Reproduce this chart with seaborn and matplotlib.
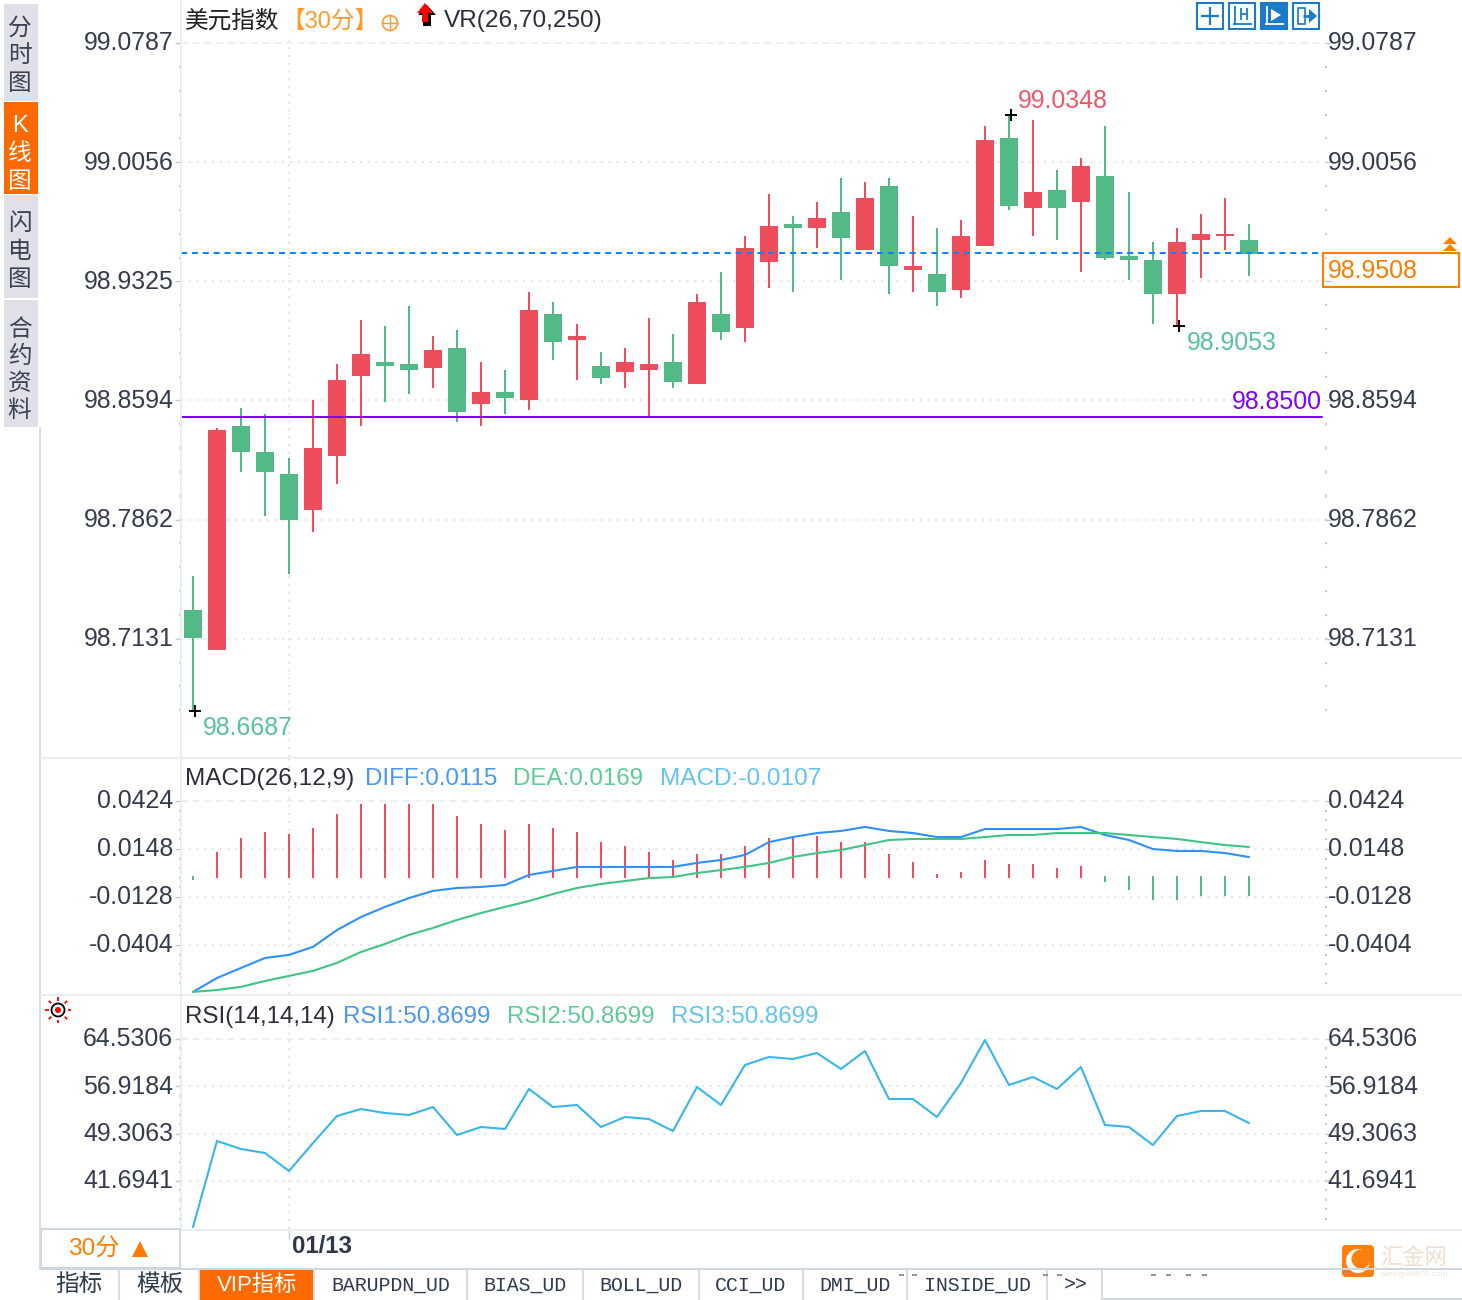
import numpy as np
import pandas as pd
import matplotlib
matplotlib.use('Agg')
import matplotlib.pyplot as plt
import seaborn as sns
from matplotlib.patches import Rectangle, Circle, Polygon, FancyBboxPatch
from matplotlib.transforms import ScaledTranslation

# candles, 30 min bars
opens = [98.7309, 98.7063, 98.8437, 98.8278, 98.8143, 98.7922, 98.8253, 98.8744, 98.8830, 98.8818, 98.8793,
         98.8916, 98.8572, 98.8646, 98.8597, 98.9125, 98.8965, 98.8806, 98.8769, 98.8781, 98.8830, 98.8695,
         98.9125, 98.9039, 98.9444, 98.9677, 98.9652, 98.9750, 98.9517, 98.9910, 98.9395, 98.9370, 98.9272,
         98.9542, 99.0204, 98.9775, 98.9885, 98.9812, 98.9971, 98.9480, 98.9456, 98.9247, 98.9579, 98.9603, 98.9579]
closes = [98.7137, 98.8413, 98.8278, 98.8155, 98.7861, 98.8303, 98.8720, 98.8879, 98.8806, 98.8781, 98.8904,
          98.8523, 98.8646, 98.8609, 98.9149, 98.8953, 98.8990, 98.8732, 98.8830, 98.8818, 98.8707, 98.9198,
          98.9014, 98.9530, 98.9664, 98.9652, 98.9714, 98.9591, 98.9836, 98.9419, 98.9419, 98.9260, 98.9603,
          99.0192, 98.9787, 98.9873, 98.9775, 99.0033, 98.9468, 98.9456, 98.9247, 98.9566, 98.9615, 98.9615, 98.9493]
highs = [98.7517, 98.8425, 98.8548, 98.8511, 98.8241, 98.8597, 98.8818, 98.9088, 98.9051, 98.9174, 98.8990,
         98.9026, 98.8830, 98.8781, 98.9260, 98.9198, 98.9063, 98.8891, 98.8916, 98.9100, 98.9002, 98.9247,
         98.9382, 98.9603, 98.9861, 98.9726, 98.9812, 98.9959, 98.9934, 98.9959, 98.9726, 98.9652, 98.9701,
         99.0278, 99.0352, 99.0315, 99.0008, 99.0082, 99.0278, 98.9873, 98.9566, 98.9652, 98.9738, 98.9836, 98.9677]
lows = [98.6683, 98.7063, 98.8155, 98.7885, 98.7530, 98.7787, 98.8082, 98.8437, 98.8585, 98.8634, 98.8671,
        98.8462, 98.8437, 98.8511, 98.8536, 98.8842, 98.8720, 98.8695, 98.8671, 98.8499, 98.8671, 98.8695,
        98.8965, 98.8953, 98.9284, 98.9260, 98.9530, 98.9333, 98.9517, 98.9247, 98.9260, 98.9174, 98.9223,
        98.9542, 98.9763, 98.9603, 98.9579, 98.9382, 98.9456, 98.9333, 98.9063, 98.9051, 98.9345, 98.9517, 98.9358]

# MACD panel
macd_hist = [-0.0030, 0.0131, 0.0211, 0.0246, 0.0234, 0.0269, 0.0349, 0.0407, 0.0407, 0.0407, 0.0407,
             0.0338, 0.0292, 0.0257, 0.0292, 0.0269, 0.0246, 0.0188, 0.0165, 0.0131, 0.0085, 0.0119,
             0.0119, 0.0165, 0.0211, 0.0223, 0.0223, 0.0188, 0.0188, 0.0119, 0.0073, 0.0004, 0.0016,
             0.0085, 0.0062, 0.0062, 0.0039, 0.0050, -0.0042, -0.0088, -0.0145, -0.0145, -0.0122, -0.0122, -0.0122]
diff = [-0.0674, -0.0594, -0.0536, -0.0479, -0.0461, -0.0415, -0.0318, -0.0243, -0.0185, -0.0134, -0.0093,
        -0.0076, -0.0070, -0.0059, -0.0001, 0.0022, 0.0045, 0.0045, 0.0045, 0.0045, 0.0045, 0.0068,
        0.0085, 0.0114, 0.0188, 0.0217, 0.0240, 0.0252, 0.0275, 0.0252, 0.0240, 0.0217, 0.0217,
        0.0263, 0.0263, 0.0263, 0.0263, 0.0275, 0.0229, 0.0200, 0.0148, 0.0137, 0.0137, 0.0125, 0.0102]
dea = [-0.0674, -0.0663, -0.0645, -0.0611, -0.0582, -0.0553, -0.0507, -0.0444, -0.0398, -0.0346, -0.0306,
       -0.0260, -0.0220, -0.0185, -0.0151, -0.0111, -0.0076, -0.0053, -0.0036, -0.0019, -0.0013, 0.0010,
       0.0027, 0.0045, 0.0068, 0.0102, 0.0125, 0.0142, 0.0171, 0.0200, 0.0206, 0.0206, 0.0206,
       0.0217, 0.0229, 0.0229, 0.0240, 0.0240, 0.0240, 0.0229, 0.0217, 0.0206, 0.0188, 0.0171, 0.0160]

# RSI panel
rsi = [34.30, 48.13, 46.84, 46.20, 43.30, 47.80, 52.15, 53.27, 52.63, 52.31, 53.59,
       49.09, 50.38, 50.06, 56.49, 53.59, 53.92, 50.38, 51.99, 51.66, 49.73, 56.81,
       53.92, 60.35, 61.64, 61.31, 62.28, 59.71, 62.60, 54.88, 54.88, 51.99, 57.45,
       64.37, 57.13, 58.42, 56.49, 60.03, 50.70, 50.38, 47.48, 52.15, 52.95, 52.95, 51.02]

main_ticks = [99.0787, 99.0056, 98.9325, 98.8594, 98.7862, 98.7131]
macd_ticks = [0.0424, 0.0148, -0.0128, -0.0404]
rsi_ticks = [64.5306, 56.9184, 49.3063, 41.6941]
extreme_idx = [34, 41, 0]
extreme_vals = [99.0348, 98.9053, 98.6687]
last_price = 98.9508
support = 98.85

tab_names = ['BARUPDN_UD', 'BIAS_UD', 'BOLL_UD', 'CCI_UD', 'DMI_UD', 'INSIDE_UD']
tab_centers = [391, 525, 641, 751, 855, 977]
tab_seps = [119, 199, 314, 467, 583, 699, 803, 907, 1047, 1102]

RED = '#ee4d5d'
GREEN = '#53b987'
ORANGE = '#ff6a00'
TEXT = '#343b4c'
LABEL = 17.9
W, H = 1462, 1300

sns.set_theme(style='white')
plt.rcParams['font.family'] = ['Liberation Sans', 'Noto Sans CJK SC', 'DejaVu Sans']
plt.rcParams['axes.unicode_minus'] = False

df = pd.DataFrame({'x': np.arange(len(opens)), 'open': opens, 'close': closes, 'high': highs, 'low': lows,
                   'hist': macd_hist, 'diff': diff, 'dea': dea, 'rsi': rsi})
df['up'] = df['close'] >= df['open']
df['color'] = np.where(df['up'], RED, GREEN)

fig = plt.figure(figsize=(W / 100, H / 100), dpi=100)


def panel(top, bottom):
    return fig.add_axes([181 / W, 1 - bottom / H, (1325 - 181) / W, (bottom - top) / H], facecolor='none')


def style_axis(ax, ticks, fmt, step, n_minor):
    ax.set_xlim(-0.5, 47.17)
    ax.set_yticks(ticks)
    ax.set_yticklabels([fmt % t for t in ticks])
    ax.set_yticks([ticks[0] - k * step for k in range(1, n_minor)], minor=True)
    ax.set_xticks([4])
    ax.set_xticklabels([])
    for s in ax.spines.values():
        s.set_visible(False)
    ax.tick_params(axis='y', which='major', left=True, right=True, labelleft=True, labelright=True,
                   length=4, width=1, color='#c4c8cc', labelcolor=TEXT, labelsize=LABEL, pad=1.5)
    ax.tick_params(axis='y', which='minor', left=True, right=True, length=1.6, width=1.6, color='#c8ccd0')
    ax.tick_params(axis='x', length=0)
    ax.grid(True, axis='both', which='major', color='#e2e5e8', linewidth=1.4, linestyle=(0, (1, 3)))
    ax.get_ygridlines()[0].set_linestyle((0, (3.5, 2.5)))
    ax.get_ygridlines()[0].set_color('#edf0f2')
    ax.set_xlabel('')
    ax.set_ylabel('')
    for tick in ax.yaxis.get_major_ticks():
        tick.label1.set_transform(tick.label1.get_transform() + ScaledTranslation(0, 1.5 / 72, fig.dpi_scale_trans))
        tick.label2.set_transform(tick.label2.get_transform() + ScaledTranslation(-5 / 100, 1.5 / 72, fig.dpi_scale_trans))


# main panel
ax = panel(36, 757)
ax.set_ylim(98.6407, 99.0830)
ax.vlines(df['x'], df['low'], df['high'], color=df['color'], linewidth=1.45, zorder=3)
ax.bar(df['x'], (df['close'] - df['open']).abs(), bottom=df[['open', 'close']].min(axis=1), width=0.74,
       color=df['color'], linewidth=0, zorder=4)
# both level lines sit a pixel lower than the price grid in the source
down1 = ax.get_yaxis_transform() + ScaledTranslation(0, -1 / 100, fig.dpi_scale_trans)
line_end = (1322 - 181) / (1325 - 181)
ax.plot([0, line_end], [last_price, last_price], transform=down1, color='#0a84ff', linewidth=1.45,
        linestyle=(0, (3, 2.4)), zorder=5)
ax.plot([0, line_end], [support, support], transform=down1, color='#8000ff', linewidth=1.45, zorder=5)
for i, v in zip(extreme_idx, extreme_vals):
    ax.plot(i + 0.08, v, marker='+', color='black', markersize=9, markeredgewidth=1.4, zorder=6)
    is_high = v > last_price + 0.05
    ax.annotate('%.4f' % v, xy=(i, v), xytext=(9 if is_high else 10, 14 if is_high else -17), textcoords='offset pixels',
                color='#f0566a' if is_high else '#57c197', fontsize=LABEL, va='center', ha='left', zorder=7)
style_axis(ax, main_ticks, '%.4f', 0.01462, 29)
# the price box covers this one on the right
ax.yaxis.get_major_ticks()[2].label2.set_visible(False)
ax.annotate('98.8500', xy=(1, support), xycoords=('axes fraction', 'data'), xytext=(-3, 14), textcoords='offset pixels',
            color='#8000ff', fontsize=LABEL, ha='right', va='center')
ax.annotate('98.9508', xy=(1, last_price), xycoords=('axes fraction', 'data'), xytext=(3, -19), textcoords='offset pixels',
            color='#ff7a00', fontsize=LABEL, ha='left', va='center', zorder=9)

# macd panel
ax2 = panel(759, 994)
ax2.set_ylim(-0.0686, 0.0666)
pos = df[df['hist'] > 0]
neg = df[df['hist'] <= 0]
ax2.vlines(pos['x'], -0.0019, pos['hist'], color=RED, linewidth=1.45, zorder=3)
ax2.vlines(neg['x'], -0.0007, neg['hist'], color=GREEN, linewidth=1.45, zorder=3)
sns.lineplot(data=df, x='x', y='diff', ax=ax2, color='#2f8fff', linewidth=1.5, legend=False, errorbar=None, zorder=4)
sns.lineplot(data=df, x='x', y='dea', ax=ax2, color='#3fc483', linewidth=1.5, legend=False, errorbar=None, zorder=4)
style_axis(ax2, macd_ticks, '%.4f', 0.00552, 20)

# rsi panel
ax3 = panel(996, 1229)
ax3.set_ylim(33.975, 71.446)
sns.lineplot(data=df, x='x', y='rsi', ax=ax3, color='#38b6e8', linewidth=1.5, legend=False, errorbar=None, zorder=4)
style_axis(ax3, rsi_ticks, '%.4f', 1.5224, 20)
ax3.set_xticklabels(['01/13'], ha='left', color='#2e3648', fontsize=17.3, fontweight='bold')
ax3.tick_params(axis='x', length=8, width=1, color='#c8ced4', pad=-3.5, bottom=True)
for tick in ax3.xaxis.get_major_ticks():
    tick.label1.set_transform(tick.label1.get_transform() + ScaledTranslation(3 / 100, 0, fig.dpi_scale_trans))

# everything around the panels, in screen pixels
ov = fig.add_axes([0, 0, 1, 1], facecolor='none', zorder=10)
ov.set_xlim(0, W)
ov.set_ylim(H, 0)
ov.axis('off')


def txt(x, y, s, color=TEXT, size=17.6, ha='left', dy=2, **kw):
    ov.text(x, y + dy, s, color=color, fontsize=size, ha=ha, va='center', **kw)


def line(x0, y0, x1, y1, color='#e9eef2', lw=1.45):
    ov.plot([x0, x1], [y0, y1], color=color, linewidth=lw, solid_capstyle='butt')


# sidebar tabs
for y0, y1, c in [(4, 101, '#dfe0e8'), (102, 194, ORANGE), (195, 298, '#dfe0e8'), (300, 427, '#dfe0e8')]:
    ov.add_patch(Rectangle((4, y0), 34, y1 - y0, color=c, linewidth=0))
for chars, ys, c in [('分时图', [27, 54, 82], '#3a4154'), ('K线图', [124, 152, 180], 'white'),
                     ('闪电图', [222, 250, 278], '#3a4154'), ('合约资料', [328, 355, 382, 409], '#3a4154')]:
    for ch, y in zip(chars, ys):
        txt(19.5, y, ch, color=c, size=17, ha='center')

# frame lines
line(39.5, 427, 39.5, 1270, color='#d8dee4')
line(181, 0, 181, 1229)
line(40, 758, W, 758)
line(40, 994.5, W, 994.5)
line(181, 1229.5, W, 1229.5)

# headers
txt(185, 19, '美元指数', color='#1f1f1f', size=17)
txt(281, 20, '【30分】', color='#ff9a2e', size=17)
ov.add_patch(Circle((390, 23), 7.5, fill=False, edgecolor='#ff9a2e', linewidth=1.2))
line(382, 23, 398, 23, color='#ff9a2e', lw=1)
line(390, 15, 390, 31, color='#ff9a2e', lw=1)
ov.add_patch(Polygon([(427, 5), (436, 15), (431, 15), (431, 26), (423, 26), (423, 15), (418, 15)], color='black', linewidth=0))
ov.add_patch(Polygon([(425, 3), (433, 13), (428, 13), (428, 22), (422, 22), (422, 13), (417, 13)], color='#ff0000', linewidth=0))
txt(444, 19, 'VR(26,70,250)', color='#2a2f3a')

txt(185, 777, 'MACD(26,12,9)', color='#2a2f3a')
txt(365, 777, 'DIFF:0.0115', color='#4a97f5', size=17.4)
txt(513, 777, 'DEA:0.0169', color='#5fcb97', size=17.4)
txt(660, 777, 'MACD:-0.0107', color='#62c4f2')
txt(185, 1015, 'RSI(14,14,14)', color='#2a2f3a', size=17.4)
txt(343, 1015, 'RSI1:50.8699', color='#4a97f5', size=17.4)
txt(507, 1015, 'RSI2:50.8699', color='#5fcb97', size=17.4)
txt(671, 1015, 'RSI3:50.8699', color='#62c4f2', size=17.4)

# toolbar buttons
for k, x0 in enumerate([1197, 1229, 1261, 1293]):
    ov.add_patch(Rectangle((x0, 3), 26, 26, facecolor='#1a7cc8' if k == 2 else 'white', edgecolor='#1a7cc8', linewidth=1.5))
    gc = 'white' if k == 2 else '#1a7cc8'
    if k == 0:
        line(x0 + 13, 7, x0 + 13, 25, color=gc, lw=1.6)
        line(x0 + 4, 16, x0 + 22, 16, color=gc, lw=1.6)
        ov.add_patch(Rectangle((x0 + 11, 14), 4, 4, color='white', linewidth=0))
    elif k == 1:
        line(x0 + 6, 6, x0 + 6, 25, color=gc, lw=1.3)
        line(x0 + 4, 24, x0 + 23, 24, color=gc, lw=1.3)
        line(x0 + 12, 8, x0 + 12, 20, color=gc, lw=1.3)
        line(x0 + 18, 8, x0 + 18, 20, color=gc, lw=1.3)
        line(x0 + 12, 14, x0 + 18, 14, color=gc, lw=1.3)
    elif k == 2:
        line(x0 + 6, 6, x0 + 6, 25, color=gc, lw=1.3)
        line(x0 + 4, 24, x0 + 23, 24, color=gc, lw=1.3)
        ov.add_patch(Polygon([(x0 + 10, 9), (x0 + 20, 15), (x0 + 10, 21)], color=gc, linewidth=0))
    else:
        ov.add_patch(Rectangle((x0 + 5, 8), 7, 16, fill=False, edgecolor=gc, linewidth=1.2))
        ov.add_patch(Polygon([(x0 + 16, 9), (x0 + 24, 16), (x0 + 16, 23)], color=gc, linewidth=0))
        line(x0 + 10, 16, x0 + 17, 16, color=gc, lw=2)

# last price box
ov.add_patch(Rectangle((1323, 253), 136, 34, fill=False, edgecolor='#ff8000', linewidth=1.5))
for y in [237, 244]:
    ov.add_patch(Polygon([(1450, y), (1457, y + 7), (1443, y + 7)], color='#ff8000', linewidth=0))

# rsi target icon
ov.add_patch(Circle((58, 1010), 6.5, fill=False, edgecolor='black', linewidth=1.3))
ov.add_patch(Circle((58, 1010), 3, color='#ff0000', linewidth=0))
for a in np.arange(8) * np.pi / 4:
    line(58 + 9.5 * np.cos(a), 1010 + 9.5 * np.sin(a), 58 + 13 * np.cos(a), 1010 + 13 * np.sin(a), color='#ff0000', lw=1.3)

# period box and tab strip
ov.add_patch(Rectangle((40.5, 1229), 139, 39, facecolor='white', edgecolor='#ced6de', linewidth=1.5))
txt(68, 1248, '30分', color='#ff8000', size=17.6)
ov.add_patch(Polygon([(140, 1241), (148, 1257), (132, 1257)], color='#ff7a00', linewidth=0))
line(40, 1269, 1102, 1269, color='#ced6de')
line(1102, 1269, W, 1269, color='#ced6de')
line(1102, 1298.5, W, 1298.5, color='#ced6de')
ov.add_patch(Rectangle((200, 1269), 114, 31, color=ORANGE, linewidth=0))
for x in tab_seps:
    line(x, 1269, x, 1300, color='#d6dde4')
txt(79, 1283, '指标', color='#2e3a4e', size=17, ha='center')
txt(160, 1283, '模板', color='#2e3a4e', size=17, ha='center')
txt(257, 1283, 'VIP指标', color='white', size=16, ha='center')
for name, cx in zip(tab_names, tab_centers):
    txt(cx, 1285, name, color='#2e3a4e', size=14.3, ha='center', dy=0, family='Liberation Mono')
txt(1076, 1285, '>>', color='#2e3a4e', size=14.3, ha='center', dy=0, family='Liberation Mono')
for x in [1151, 1166, 1186, 1202, 899, 912, 1043, 1057]:
    line(x, 1274.5, x + 5, 1274.5, color='#7a8290', lw=1.2)

# logo
ov.add_patch(FancyBboxPatch((1344, 1247), 28, 28, boxstyle='round,pad=2,rounding_size=4', color='#ff7f0e', linewidth=0))
ov.add_patch(Circle((1358, 1261), 12, color='white', linewidth=0))
ov.add_patch(Circle((1361, 1259), 9.5, color='#ff7f0e', linewidth=0))
txt(1413, 1256, '汇金网', color='#eeded0', size=16, ha='center')
txt(1413, 1273, 'www.gold678.com', color='#efe4da', size=6, ha='center')

fig.savefig('out.png', dpi=100)
